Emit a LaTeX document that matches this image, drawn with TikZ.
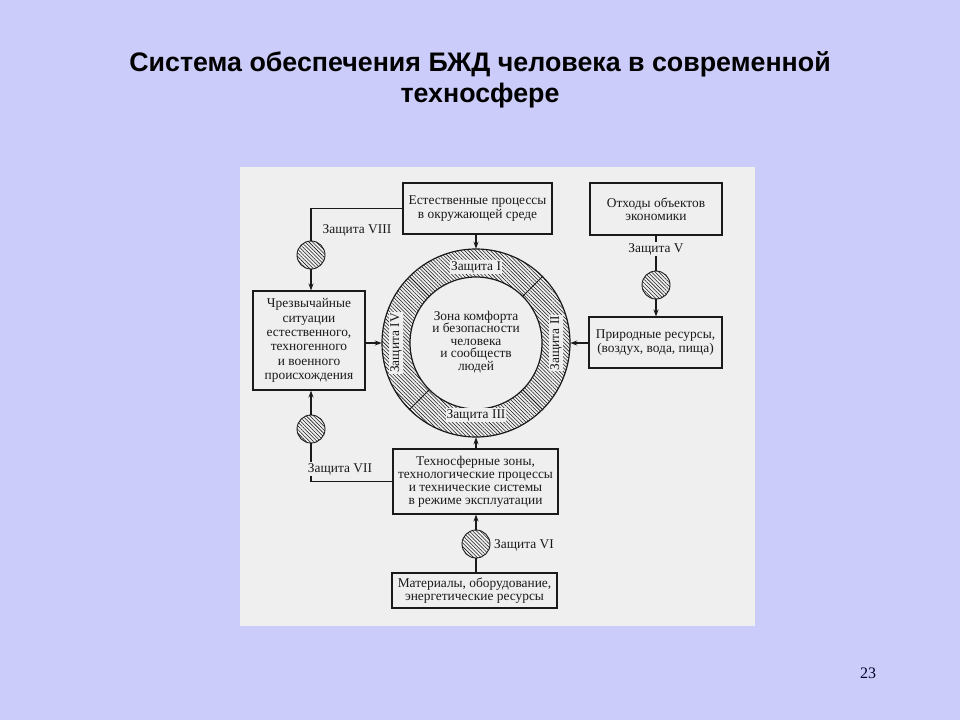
\documentclass[tikz,border=0pt]{standalone}
\usepackage{fontspec}
\setmainfont{Liberation Serif}
\newfontfamily\titlefont{Liberation Sans}
\usetikzlibrary{arrows.meta,patterns.meta}
\definecolor{slidebg}{HTML}{CCCCFA}
\definecolor{scanbg}{HTML}{EFEFEF}
\definecolor{ink}{HTML}{1A1A1A}
\tikzset{
  hatch/.style={pattern={Lines[angle=-45,distance=2.6pt,line width=0.55pt]},pattern color=ink},
  box/.style={draw=ink,line width=1.1pt,fill=scanbg,align=center,inner sep=1pt,
    font=\fontsize{13.4}{13.4}\selectfont,text=ink},
  prot/.style={draw=ink,line width=0.9pt,circle,minimum size=28pt,inner sep=0pt,hatch},
  lbl/.style={font=\fontsize{13.4}{14}\selectfont,text=ink,fill=scanbg,inner sep=1pt},
  ringlbl/.style={font=\fontsize{13.4}{14}\selectfont,text=ink,fill=scanbg,inner sep=1pt},
  conn/.style={draw=ink,line width=1.1pt},
  arr/.style={conn,-{Stealth[length=7pt,width=5pt]}},
}
\begin{document}
\begin{tikzpicture}[x=1pt,y=-1pt]
\useasboundingbox (0,0) rectangle (960,720);
\fill[slidebg] (0,0) rectangle (960,720);
% title
\node[font=\titlefont\bfseries\fontsize{26.8}{30}\selectfont,text=black] (t1) at (480,64) {Система обеспечения БЖД человека в современной};
\node[font=\titlefont\bfseries\fontsize{26.8}{30}\selectfont,text=black] (t2) at (480,96) {техносфере};
\node[font=\fontsize{16}{18}\selectfont,text=black!85!blue] (pg) at (868,673) {23};
% scanned area
\fill[scanbg] (240,167) rectangle (755,626);
% ring
\node[draw=ink,line width=1.2pt,circle,minimum size=188pt,inner sep=0pt,hatch] (ring) at (476,343) {};
\node[draw=ink,line width=1.2pt,circle,minimum size=132pt,inner sep=0pt,fill=scanbg] (inner) at (476,343) {};
\foreach \a in {45,135,225,315}
  \draw[ink,line width=0.9pt] (476,343) ++(\a:66) -- ++(\a:28);
\node[ringlbl] (zI) at (476,267) {Защита I};
\node[ringlbl] (zIII) at (476,415) {Защита III};
\node[ringlbl,rotate=90] (zIV) at (396,343) {Защита IV};
\node[ringlbl,rotate=90] (zII) at (556,343) {Защита II};
\node[align=center,font=\fontsize{13.4}{12.6}\selectfont,text=ink] (zone) at (476,342)
  {Зона комфорта\\и безопасности\\человека\\и сообществ\\людей};
% boxes
\node[box,minimum width=149pt,minimum height=51pt] (nat) at (477.5,208.5)
  {Естественные процессы\\в окружающей среде};
\node[box,minimum width=132pt,minimum height=52pt] (waste) at (656,209)
  {Отходы объектов\\экономики};
\node[box,minimum width=133pt,minimum height=51pt] (res) at (655.5,342.5)
  {Природные ресурсы,\\(воздух, вода, пища)};
\node[box,minimum width=112pt,minimum height=99pt,font=\fontsize{13.4}{14.4}\selectfont] (emg) at (309,340.5)
  {Чрезвычайные\\ситуации\\естественного,\\техногенного\\и военного\\происхождения};
\node[box,minimum width=165pt,minimum height=65pt,font=\fontsize{13.4}{13}\selectfont] (tech) at (475.5,481.5)
  {Техносферные зоны,\\технологические процессы\\и технические системы\\в режиме эксплуатации};
\node[box,minimum width=165pt,minimum height=35pt] (mat) at (474.5,590.5)
  {Материалы, оборудование,\\энергетические ресурсы};
% protection circles
\node[prot] (c8) at (311,255) {};
\node[prot] (c5) at (656,285) {};
\node[prot] (c7) at (311,429) {};
\node[prot] (c6) at (476,544) {};
% connectors
\draw[arr] (ring.north |- nat.south) -- (ring.north);
\draw[arr] (ring.south |- tech.north) -- (ring.south);
\draw[arr] (emg.east |- ring.west) -- (ring.west);
\draw[arr] (res.west |- ring.east) -- (ring.east);
\draw[conn] (nat.west) -| (c8.north);
\draw[arr] (c8.south) -- (emg.north -| c8.south);
\draw[conn] (waste.south -| c5.north) -- (c5.north);
\draw[arr] (c5.south) -- (res.north -| c5.south);
\draw[conn] (tech.west) -| (c7.south);
\draw[arr] (c7.north) -- (emg.south -| c7.north);
\draw[conn] (mat.north -| c6.south) -- (c6.south);
\draw[arr] (c6.north) -- (tech.south -| c6.north);
% labels
\node[lbl] (l8) at (357,230) {Защита VIII};
\node[lbl] (l5) at (656,249) {Защита V};
\node[lbl] (l7) at (340,469) {Защита VII};
\node[lbl,anchor=west] (l6) at (493,545) {Защита VI};
\end{tikzpicture}
\end{document}
